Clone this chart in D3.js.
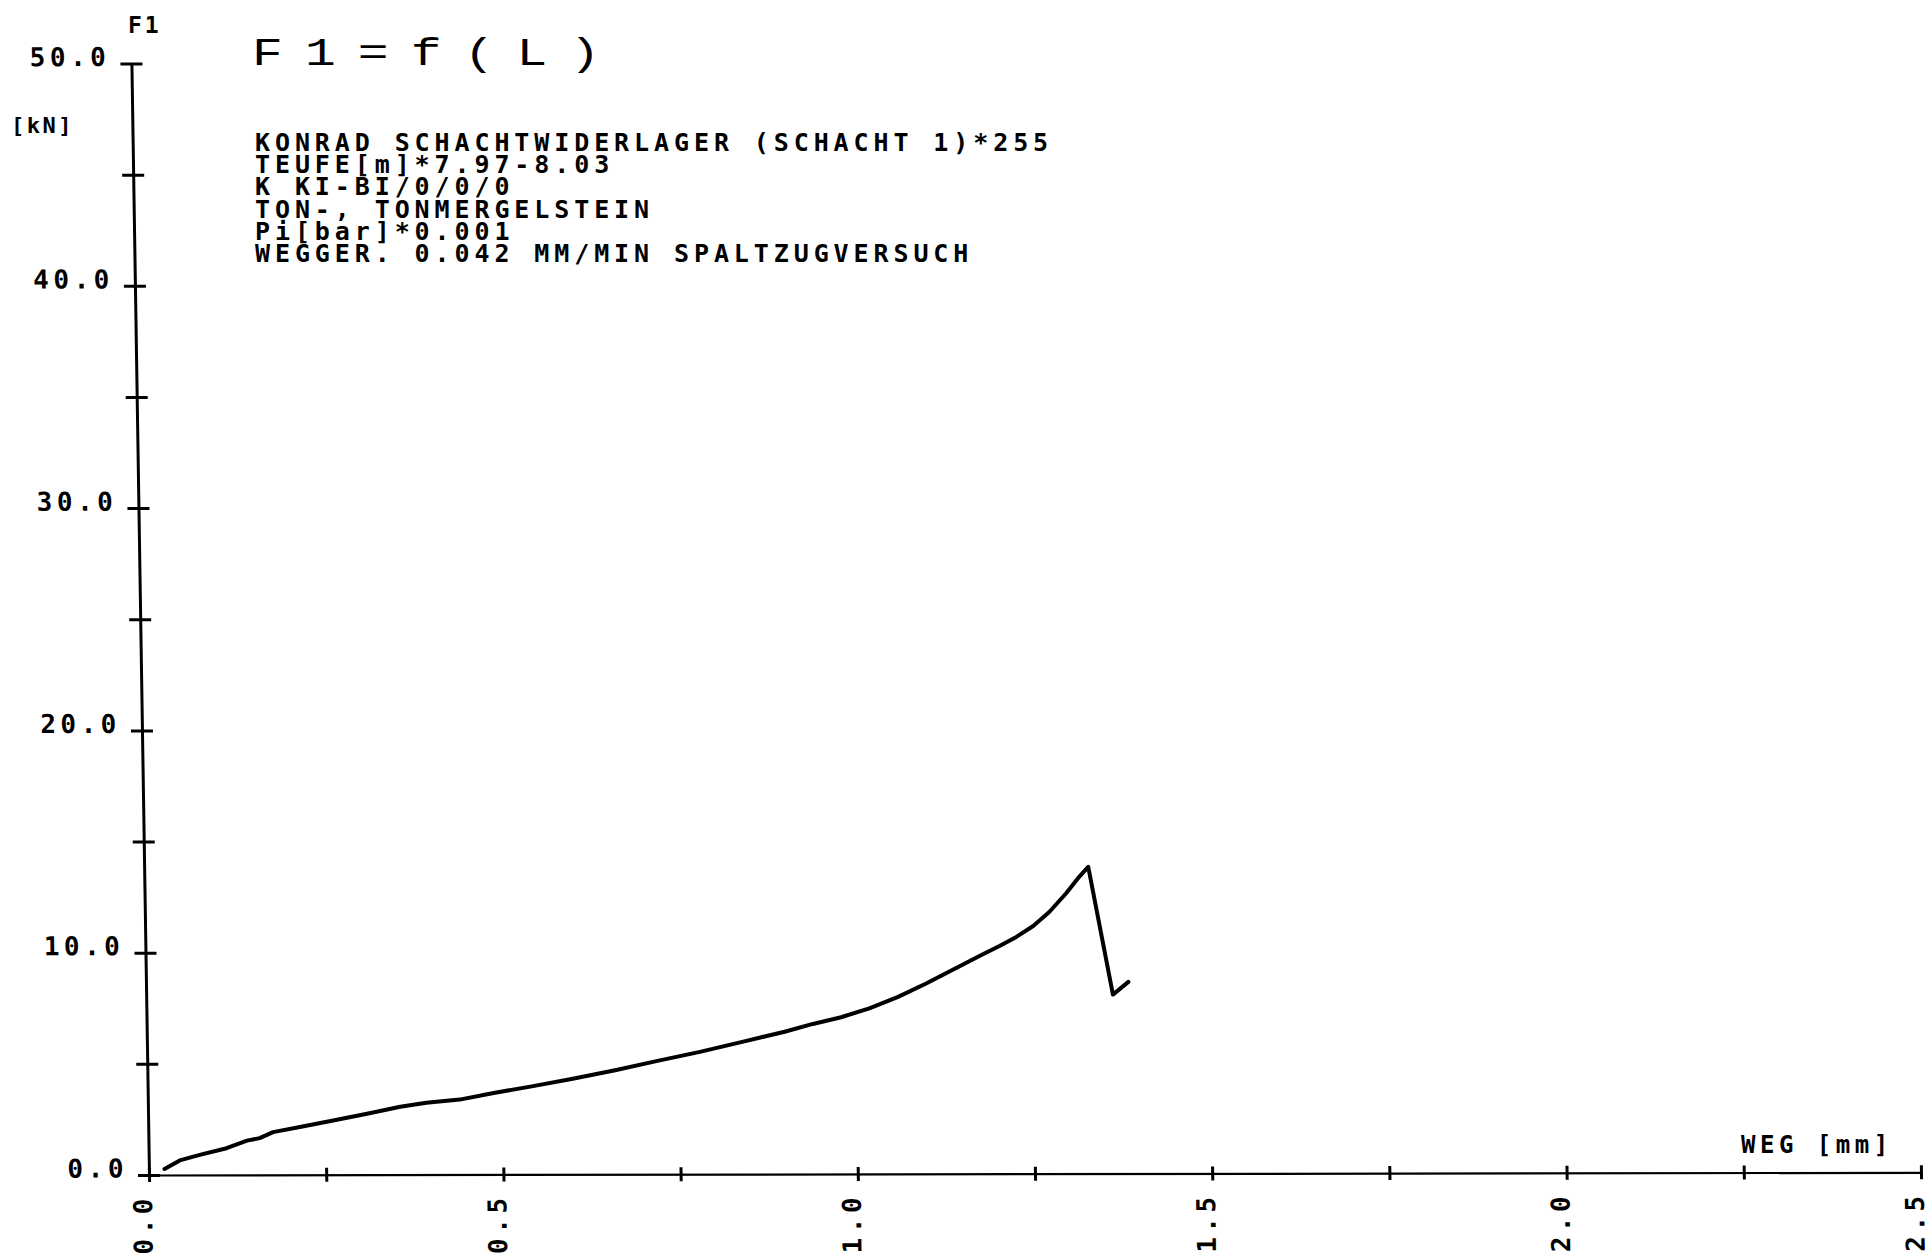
<!DOCTYPE html>
<html>
<head>
<meta charset="utf-8">
<script src="https://cdn.jsdelivr.net/npm/d3@7"></script>
<style>
  html, body { margin: 0; background: #fff; }
  svg { display: block; }
</style>
</head>
<body>
<svg id="chart" width="1930" height="1259"></svg>
<script>
// Splitting tensile test: displacement WEG [mm] vs. force F1 [kN]
const wegMm = [
  0.022, 0.045, 0.072, 0.110, 0.139, 0.157, 0.176, 0.214, 0.261, 0.309,
  0.356, 0.393, 0.440, 0.490, 0.540, 0.600, 0.660, 0.720, 0.780, 0.840,
  0.900, 0.940, 0.980, 1.020, 1.060, 1.100, 1.140, 1.180, 1.205, 1.229,
  1.253, 1.276, 1.300, 1.319, 1.332, 1.364, 1.386
];
const kraftKN = [
  0.27, 0.67, 0.90, 1.20, 1.54, 1.65, 1.92, 2.15, 2.44, 2.74,
  3.05, 3.23, 3.37, 3.68, 3.95, 4.30, 4.68, 5.10, 5.50, 5.95,
  6.40, 6.75, 7.05, 7.45, 7.95, 8.55, 9.20, 9.85, 10.24, 10.65,
  11.14, 11.77, 12.60, 13.35, 13.80, 8.05, 8.62
];

const xTickValues = [0, 0.25, 0.5, 0.75, 1.0, 1.25, 1.5, 1.75, 2.0, 2.25, 2.5];
const xTickLabels = ["0.0", "", "0.5", "", "1.0", "", "1.5", "", "2.0", "", "2.5"];
const yTickValues = [0, 5, 10, 15, 20, 25, 30, 35, 40, 45, 50];
const yTickLabels = ["0.0", "", "10.0", "", "20.0", "", "30.0", "", "40.0", "", "50.0"];

const titleText = "F1=f(L)";
const infoLines = [
  "KONRAD SCHACHTWIDERLAGER (SCHACHT 1)*255",
  "TEUFE[m]*7.97-8.03",
  "K KI-BI/0/0/0",
  "TON-, TONMERGELSTEIN",
  "Pi[bar]*0.001",
  "WEGGER. 0.042 MM/MIN SPALTZUGVERSUCH"
];

const MONO = "'DejaVu Sans Mono', 'Liberation Mono', monospace";
const svg = d3.select("#chart");
svg.append("rect").attr("width", 1930).attr("height", 1259).attr("fill", "#fff");

const x = d3.scaleLinear().domain([0, 2.5]).range([149, 1921]);
const y = d3.scaleLinear().domain([0, 50]).range([1175, 63.5]);
const ox = x(0), oy = y(0);

// The pen plotter drew its frame with a slight skew; the axes, ticks and
// curve share it.
const plot = svg.append("g")
  .attr("transform", `translate(${ox},${oy}) skewX(0.907) skewY(-0.087) translate(${-ox},${-oy})`);

// Y axis: crossing ticks every 5 kN, labels every 10 kN
const yAxis = plot.append("g")
  .attr("transform", `translate(${ox},0)`)
  .call(d3.axisLeft(y)
    .tickValues(yTickValues)
    .tickSize(11)
    .tickSizeOuter(0)
    .tickPadding(10)
    .tickFormat((d, i) => yTickLabels[i]));
yAxis.select(".domain").attr("stroke", "#000").attr("stroke-width", 3);
yAxis.selectAll(".tick line").attr("x1", 11).attr("stroke", "#000").attr("stroke-width", 3);
yAxis.selectAll(".tick text")
  .attr("dy", "2px")
  .attr("fill", "#000")
  .style("font-family", MONO)
  .style("font-weight", "bold")
  .style("font-size", "26px")
  .style("letter-spacing", "4.5px");

// X axis: crossing ticks every 0.25 mm, rotated labels every 0.5 mm
const xAxis = plot.append("g")
  .attr("transform", `translate(0,${oy})`)
  .call(d3.axisBottom(x)
    .tickValues(xTickValues)
    .tickSize(7)
    .tickSizeOuter(0)
    .tickFormat((d, i) => xTickLabels[i]));
xAxis.select(".domain").attr("stroke", "#000").attr("stroke-width", 2.2);
xAxis.selectAll(".tick line").attr("y1", -7).attr("stroke", "#000").attr("stroke-width", 3);
xAxis.selectAll(".tick text")
  .attr("x", 0)
  .attr("y", 0)
  .attr("dy", "2px")
  .attr("text-anchor", "end")
  .attr("transform", "translate(0,19) rotate(-90)")
  .attr("fill", "#000")
  .style("font-family", MONO)
  .style("font-weight", "bold")
  .style("font-size", "26px")
  .style("letter-spacing", "4.5px");

// Measured force curve
const line = d3.line()
  .x((d, i) => x(wegMm[i]))
  .y(d => y(d));
plot.append("path")
  .datum(kraftKN)
  .attr("d", line)
  .attr("fill", "none")
  .attr("stroke", "#000")
  .attr("stroke-width", 4)
  .attr("stroke-linejoin", "round")
  .attr("stroke-linecap", "round");

// Axis captions
svg.append("text")
  .attr("x", 128).attr("y", 33)
  .style("font-family", MONO).style("font-weight", "bold")
  .style("font-size", "23px").style("letter-spacing", "3px")
  .text("F1");
svg.append("text")
  .attr("x", 11).attr("y", 133)
  .style("font-family", MONO).style("font-weight", "bold")
  .style("font-size", "22px").style("letter-spacing", "2.5px")
  .text("[kN]");
svg.append("text")
  .attr("x", 1741).attr("y", 1153)
  .style("font-family", MONO).style("font-weight", "bold")
  .style("font-size", "24px").style("letter-spacing", "4.5px")
  .text("WEG [mm]");

// Title
svg.append("text")
  .attr("transform", "translate(252,65) scale(1.35,1)")
  .style("font-family", "'Liberation Mono', 'DejaVu Sans Mono', monospace")
  .style("font-size", "38px")
  .style("letter-spacing", "16.4px")
  .text(titleText);

// Specimen description block
svg.append("g")
  .selectAll("text")
  .data(infoLines)
  .join("text")
  .attr("x", 255)
  .attr("y", (d, i) => 151 + i * 22.2)
  .style("font-family", MONO)
  .style("font-weight", "bold")
  .style("font-size", "25px")
  .style("letter-spacing", "4.9px")
  .text(d => d);
</script>
</body>
</html>
